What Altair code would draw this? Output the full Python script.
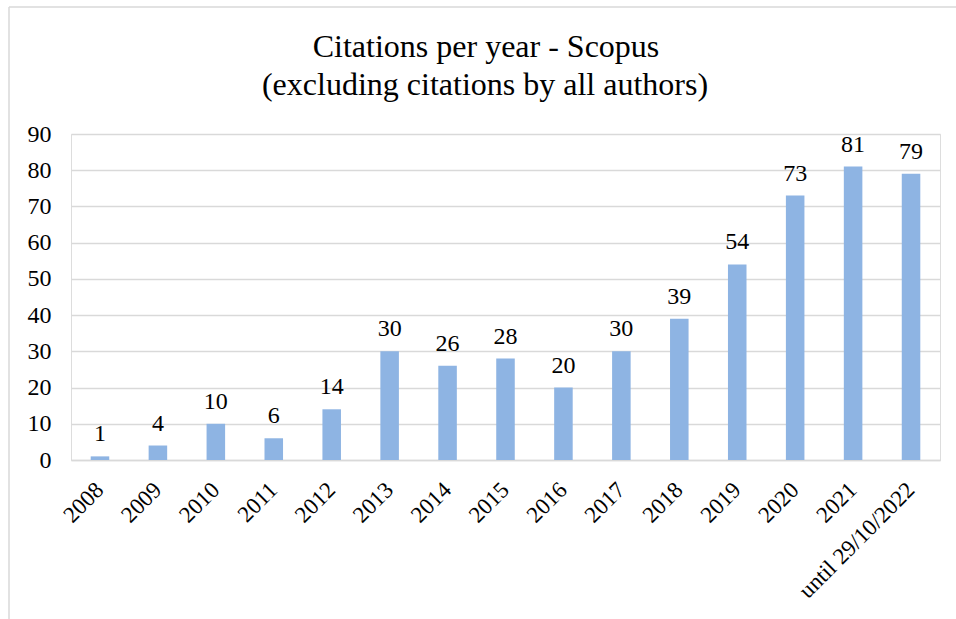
import altair as alt
import pandas as pd

years = ["2008", "2009", "2010", "2011", "2012", "2013", "2014", "2015",
         "2016", "2017", "2018", "2019", "2020", "2021", "until 29/10/2022"]
citations = [1, 4, 10, 6, 14, 30, 26, 28, 20, 30, 39, 54, 73, 81, 79]
title_lines = ["Citations per year - Scopus", "(excluding citations by all authors)"]
y_ticks = [0, 10, 20, 30, 40, 50, 60, 70, 80, 90]

df = pd.DataFrame({"year": years, "citations": citations})
FONT = "Liberation Serif"
BAR = "#8EB4E3"
GRID = "#D9D9D9"

x_enc = alt.X("year:N", sort=years,
              scale=alt.Scale(paddingInner=0.68, paddingOuter=0.34),
              axis=alt.Axis(title=None, labelAngle=-45, labelAlign="right",
                            labelBaseline="middle", labelPadding=26,
                            ticks=False, domain=True, domainColor=GRID,
                            domainWidth=1.5, labelFont=FONT, labelFontSize=23,
                            labelColor="black", grid=False, labelOverlap=False))
y_enc = alt.Y("citations:Q",
              scale=alt.Scale(domain=[0, 90], nice=False),
              axis=alt.Axis(title=None, values=y_ticks, ticks=False, domain=False,
                            labelFont=FONT, labelFontSize=24, labelColor="black",
                            labelPadding=20, gridColor=GRID, gridWidth=1.5,
                            labelOverlap=False))

base = alt.Chart(df)
bars = base.mark_bar(color=BAR).encode(x=x_enc, y=y_enc)
labels = base.mark_text(font=FONT, fontSize=24, color="black", baseline="alphabetic", dy=-15).encode(
    x=x_enc, y=y_enc, text="citations:Q")

one = alt.Data(values=[{"k": 1}])
frame_top = alt.Chart(one).mark_rule(color=GRID, strokeWidth=1.5).encode(
    x=alt.value(-62), x2=alt.value(900), y=alt.value(-127))
frame_left = alt.Chart(one).mark_rule(color=GRID, strokeWidth=1.5).encode(
    x=alt.value(-62), y=alt.value(-127), y2=alt.value(500))

title1 = alt.Chart(one).mark_text(font=FONT, fontSize=32, color="black", align="center",
                                  baseline="alphabetic", text=title_lines[0]).encode(
    x=alt.value(415), y=alt.value(-77.5))
title2 = alt.Chart(one).mark_text(font=FONT, fontSize=32, color="black", align="center",
                                  baseline="alphabetic", text=title_lines[1]).encode(
    x=alt.value(414), y=alt.value(-39))

chart = alt.layer(bars, labels, frame_top, frame_left, title1, title2).properties(
    width=869, height=326,
    padding={"left": 71, "top": 134, "right": 16, "bottom": 159},
    autosize=alt.AutoSizeParams(type="none"),
).configure_view(stroke=None).configure(background="white")

chart.save("out.html", embed_options={"renderer": "svg", "actions": False})
